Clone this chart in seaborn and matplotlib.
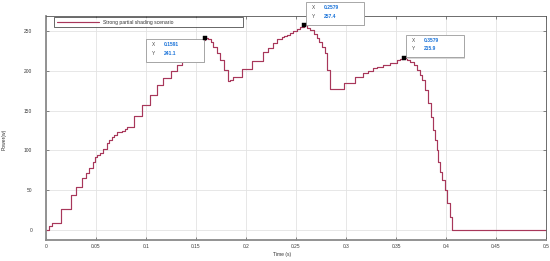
import numpy as np
import pandas as pd
import matplotlib
matplotlib.use("Agg")
import matplotlib.pyplot as plt
import seaborn as sns
from matplotlib.patches import Rectangle
from matplotlib.transforms import Affine2D, ScaledTranslation

# ---- data ----
time_s = [0.0, 0.003, 0.0057, 0.0147, 0.0247, 0.030, 0.0357, 0.0397, 0.0433, 0.0467,
          0.049, 0.051, 0.054, 0.057, 0.0607, 0.063, 0.0657, 0.068, 0.0713, 0.0757,
          0.079, 0.0807, 0.0883, 0.0957, 0.104, 0.1113, 0.1167, 0.1253, 0.1307, 0.136,
          0.142, 0.148, 0.153, 0.157, 0.1591, 0.162, 0.1645, 0.1673, 0.1705, 0.174,
          0.178, 0.1817, 0.184, 0.1867, 0.1957, 0.2063, 0.2167, 0.2223, 0.2267, 0.2313,
          0.2357, 0.238, 0.2407, 0.244, 0.2473, 0.251, 0.254, 0.2579, 0.261, 0.264,
          0.2675, 0.2707, 0.273, 0.2757, 0.279, 0.2813, 0.284, 0.2983, 0.309, 0.3173,
          0.3223, 0.3267, 0.3307, 0.3373, 0.344, 0.3507, 0.354, 0.3579, 0.361, 0.364,
          0.3675, 0.3707, 0.3735, 0.3757, 0.379, 0.3823, 0.3847, 0.3873, 0.389, 0.3907,
          0.3923, 0.394, 0.3957, 0.399, 0.4013, 0.404, 0.406, 0.5]
power_w = [0.0, 4.0, 8.5, 26.0, 44.0, 54.0, 64.5, 71.0, 78.0, 85.5,
           91.0, 94.0, 97.0, 102.0, 108.8, 112.5, 116.4, 119.5, 122.6, 124.7,
           126.4, 129.7, 143.6, 157.0, 169.6, 182.0, 191.0, 200.0, 207.5, 215.0,
           222.0, 229.0, 235.0, 239.0, 241.1, 239.5, 236.0, 230.5, 223.0, 213.7,
           201.0, 187.3, 189.0, 192.0, 202.0, 212.9, 223.4, 229.2, 235.5, 239.8,
           242.5, 244.0, 245.2, 248.0, 250.6, 253.0, 254.9, 257.4, 254.5, 251.5,
           246.5, 241.0, 236.0, 230.5, 222.0, 201.0, 177.5, 185.0, 192.0, 197.0,
           200.0, 203.0, 205.0, 207.5, 210.0, 213.0, 214.5, 215.9, 214.0, 211.6,
           207.0, 201.0, 195.0, 188.5, 176.0, 159.2, 142.3, 125.6, 113.0, 100.4,
           85.6, 73.0, 62.6, 50.0, 33.2, 16.4, 0.0, 0.0]

tip_time = [0.1591, 0.2579, 0.3579]
tip_power = [241.1, 257.4, 215.9]
tip_labels_x = ["0.1591", "0.2579", "0.3579"]
tip_labels_y = ["241.1", "257.4", "215.9"]
tip_side = ["left", "right", "right"]

x_ticks = [0, 0.05, 0.1, 0.15, 0.2, 0.25, 0.3, 0.35, 0.4, 0.45, 0.5]
x_tick_labels = ["0", "0.05", "0.1", "0.15", "0.2", "0.25", "0.3", "0.35", "0.4", "0.45", "0.5"]
y_ticks = [0, 50, 100, 150, 200, 250]
series_name = "Strong partial shading scenario"

df = pd.DataFrame({"Time (s)": time_s, "Power(w)": power_w})
tips_df = pd.DataFrame({"t": tip_time, "p": tip_power})

# ---- styling ----
sns.set_theme(style="whitegrid")
plt.rcParams["font.family"] = ["Liberation Sans", "DejaVu Sans"]

fig = plt.figure(figsize=(5.5, 2.61), dpi=100)
ax = fig.add_axes([46 / 550, 21 / 261, 500 / 550, 224 / 261])

line_color = "#a8375a"
sns.lineplot(data=df, x="Time (s)", y="Power(w)", ax=ax, color=line_color,
             linewidth=0.85, drawstyle="steps-post", estimator=None, sort=False,
             label=series_name)
sns.scatterplot(data=tips_df, x="t", y="p", ax=ax, marker="s", s=5, color="black",
                edgecolor="black", linewidth=0.3, zorder=7, legend=False)

ax.set_xlim(0, 0.5)
ax.set_ylim(-13, 269)
ax.set_xticks(x_ticks)
ax.set_xticklabels(x_tick_labels)
ax.set_yticks(y_ticks)

ax.grid(True, color="#e3e3e3", linewidth=0.6)
ax.set_facecolor("white")
for side in ["left", "bottom"]:
    ax.spines[side].set_color("#8a8a8a")
    ax.spines[side].set_linewidth(1.3)
for side in ["top", "right"]:
    ax.spines[side].set_color("#555555")
    ax.spines[side].set_linewidth(0.6)

ax.tick_params(axis="both", which="both", direction="in", length=2.5, width=0.5,
               color="#555555", labelsize=3.5, labelcolor="#3a3a3a",
               top=True, right=True, bottom=True, left=True)
ax.tick_params(axis="y", pad=10)
ax.tick_params(axis="x", pad=3)

ax.set_xlabel("Time (s)", fontsize=3.6, color="#333333")
ax.set_ylabel("Power(w)", fontsize=3.6, color="#333333")
ax.xaxis.set_label_coords(0.472, -0.055)
ax.yaxis.set_label_coords(-0.078, 0.45)

leg = ax.legend(loc="upper left", bbox_to_anchor=(0.016, 0.994, 0.378, 0.0),
                mode="expand", fontsize=3.6, frameon=True, fancybox=False,
                handlelength=8.5, borderpad=0.5, handletextpad=0.8, borderaxespad=0)
leg.get_frame().set_edgecolor("#222222")
leg.get_frame().set_linewidth(0.6)
for t in leg.get_texts():
    t.set_color("#333333")

# ---- data tips ----
for t, p, lx, ly, side in zip(tip_time, tip_power, tip_labels_x, tip_labels_y, tip_side):
    base = Affine2D() + ScaledTranslation(t, p, ax.transData)
    w, h = 58, 22.5
    if side == "left":
        x0, y0 = -59, -23.5
    else:
        x0, y0 = 1.7, 0.7
    ax.add_patch(Rectangle((x0 + 1.2, y0 - 1.2), w, h, transform=base, facecolor="#d8d8d8",
                           edgecolor="none", zorder=4, clip_on=False))
    ax.add_patch(Rectangle((x0, y0), w, h, transform=base, facecolor="white",
                           edgecolor="#9a9a9a", linewidth=0.6, zorder=5, clip_on=False))
    ax.text(x0 + 6, y0 + h - 5.5, "X", transform=base, fontsize=3.4, color="#444444",
            va="center", ha="left", zorder=6)
    ax.text(x0 + 6, y0 + h - 14, "Y", transform=base, fontsize=3.4, color="#444444",
            va="center", ha="left", zorder=6)
    ax.text(x0 + 18, y0 + h - 5.5, lx, transform=base, fontsize=3.6, color="#1a73d9",
            fontweight="bold", va="center", ha="left", zorder=6)
    ax.text(x0 + 18, y0 + h - 14, ly, transform=base, fontsize=3.6, color="#1a73d9",
            fontweight="bold", va="center", ha="left", zorder=6)

fig.savefig("out.png", dpi=100)
